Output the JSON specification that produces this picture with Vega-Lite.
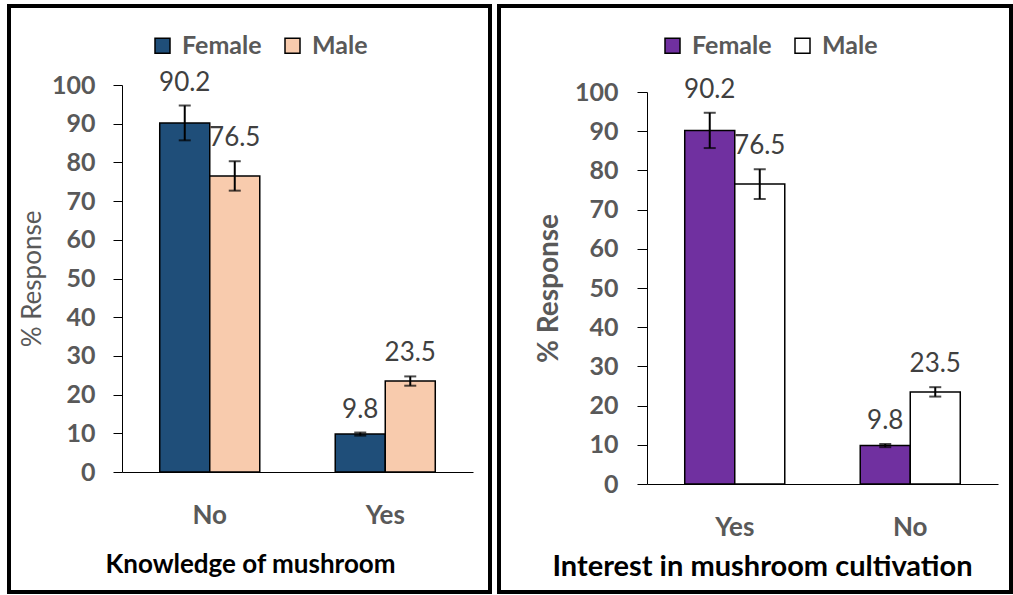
{
  "$schema": "https://vega.github.io/schema/vega-lite/v6.json",
  "padding": {"left": 7, "top": 4, "right": 0, "bottom": 0},
  "background": "white",
  "config": {
    "view": {"stroke": "black", "strokeWidth": 4},
    "font": "Lato",
    "axis": {"grid": false, "domainColor": "black", "domainWidth": 1, "tickColor": "black"},
    "legend": {
      "orient": "none", "direction": "horizontal", "title": null,
      "symbolType": "square", "symbolSize": 225, "symbolStrokeColor": "black", "symbolStrokeWidth": 1.5,
      "labelFont": "Lato", "labelFontSize": 25, "labelFontWeight": "bold", "labelColor": "#595959",
      "labelOffset": 7, "columnPadding": 18
    }
  },
  "datasets": {
    "knowledge": [
      {"answer": "No", "sex": "Female", "value": 90.2, "lo": 85.7, "hi": 94.7},
      {"answer": "No", "sex": "Male", "value": 76.5, "lo": 72.7, "hi": 80.3},
      {"answer": "Yes", "sex": "Female", "value": 9.8, "lo": 9.4, "hi": 10.2},
      {"answer": "Yes", "sex": "Male", "value": 23.5, "lo": 22.3, "hi": 24.7}
    ],
    "interest": [
      {"answer": "Yes", "sex": "Female", "value": 90.2, "lo": 85.7, "hi": 94.7},
      {"answer": "Yes", "sex": "Male", "value": 76.5, "lo": 72.7, "hi": 80.3},
      {"answer": "No", "sex": "Female", "value": 9.8, "lo": 9.4, "hi": 10.2},
      {"answer": "No", "sex": "Male", "value": 23.5, "lo": 22.3, "hi": 24.7}
    ]
  },
  "spacing": 5,
  "resolve": {
    "scale": {"color": "independent", "x": "independent", "y": "independent", "xOffset": "independent"},
    "legend": {"color": "independent"},
    "axis": {"x": "independent", "y": "independent"}
  },
  "hconcat": [
    {
      "width": 481,
      "height": 586,
      "data": {"name": "knowledge"},
      "encoding": {
        "x": {
          "field": "answer", "type": "nominal",
          "scale": {"domain": ["No", "Yes"], "range": [113, 464], "paddingInner": 0.43, "paddingOuter": 0.215},
          "axis": {
            "orient": "bottom", "offset": -120, "labelAngle": 0, "ticks": false, "tickSize": 0,
            "labelFontSize": 26, "labelFontWeight": "bold", "labelColor": "#595959", "labelPadding": 30,
            "title": "Knowledge of mushroom", "titleFontSize": 26, "titleFontWeight": "bold", "titleColor": "black",
            "titleX": 241, "titleY": 100, "titleBaseline": "alphabetic"
          }
        },
        "xOffset": {"field": "sex", "type": "nominal", "scale": {"domain": ["Female", "Male"]}}
      },
      "layer": [
        {
          "mark": {"type": "bar", "stroke": "black", "strokeWidth": 1.5},
          "encoding": {
            "y": {
              "field": "value", "type": "quantitative",
              "scale": {"domain": [0, 100], "range": [466, 79], "nice": false},
              "axis": {
                "orient": "left", "offset": -113, "values": [0, 10, 20, 30, 40, 50, 60, 70, 80, 90, 100],
                "tickSize": 9, "labelPadding": 18, "labelFontSize": 25, "labelFontWeight": "bold", "labelColor": "#595959",
                "title": "% Response", "titleFontSize": 26, "titleFontWeight": "normal", "titleColor": "#595959",
                "titleX": -82, "titleBaseline": "alphabetic"
              }
            },
            "color": {
              "field": "sex", "type": "nominal",
              "scale": {"domain": ["Female", "Male"], "range": ["#1F4E79", "#F8CBAD"]},
              "legend": {"legendX": 141, "legendY": 27}
            }
          }
        },
        {
          "mark": {"type": "rule", "color": "black", "strokeWidth": 2},
          "encoding": {"y": {"field": "lo", "type": "quantitative"}, "y2": {"field": "hi"}}
        },
        {
          "mark": {"type": "tick", "color": "black", "thickness": 2, "size": 12},
          "encoding": {"y": {"field": "lo", "type": "quantitative"}}
        },
        {
          "mark": {"type": "tick", "color": "black", "thickness": 2, "size": 12},
          "encoding": {"y": {"field": "hi", "type": "quantitative"}}
        },
        {
          "mark": {"type": "text", "baseline": "alphabetic", "dy": -15, "fontSize": 26, "color": "#404040", "font": "Lato"},
          "encoding": {"y": {"field": "hi", "type": "quantitative"}, "text": {"field": "value", "type": "quantitative", "format": ".1f"}}
        }
      ]
    },
    {
      "width": 512,
      "height": 586,
      "data": {"name": "interest"},
      "encoding": {
        "x": {
          "field": "answer", "type": "nominal",
          "scale": {"domain": ["Yes", "No"], "range": [148, 499], "paddingInner": 0.43, "paddingOuter": 0.215},
          "axis": {
            "orient": "bottom", "offset": -108, "labelAngle": 0, "ticks": false, "tickSize": 0,
            "labelFontSize": 26, "labelFontWeight": "bold", "labelColor": "#595959", "labelPadding": 30,
            "title": "Interest in mushroom cultivation", "titleFontSize": 29, "titleFontWeight": "bold", "titleColor": "black",
            "titleX": 263, "titleY": 91, "titleBaseline": "alphabetic"
          }
        },
        "xOffset": {"field": "sex", "type": "nominal", "scale": {"domain": ["Female", "Male"]}}
      },
      "layer": [
        {
          "mark": {"type": "bar", "stroke": "black", "strokeWidth": 1.5},
          "encoding": {
            "y": {
              "field": "value", "type": "quantitative",
              "scale": {"domain": [0, 100], "range": [478, 86], "nice": false},
              "axis": {
                "orient": "left", "offset": -148, "values": [0, 10, 20, 30, 40, 50, 60, 70, 80, 90, 100],
                "tickSize": 10, "labelPadding": 19, "labelFontSize": 25, "labelFontWeight": "bold", "labelColor": "#595959",
                "title": "% Response", "titleFontSize": 28, "titleFontWeight": "bold", "titleColor": "#595959",
                "titleX": -90, "titleBaseline": "alphabetic"
              }
            },
            "color": {
              "field": "sex", "type": "nominal",
              "scale": {"domain": ["Female", "Male"], "range": ["#7030A0", "#FFFFFF"]},
              "legend": {"legendX": 161, "legendY": 27}
            }
          }
        },
        {
          "mark": {"type": "rule", "color": "black", "strokeWidth": 2},
          "encoding": {"y": {"field": "lo", "type": "quantitative"}, "y2": {"field": "hi"}}
        },
        {
          "mark": {"type": "tick", "color": "black", "thickness": 2, "size": 12},
          "encoding": {"y": {"field": "lo", "type": "quantitative"}}
        },
        {
          "mark": {"type": "tick", "color": "black", "thickness": 2, "size": 12},
          "encoding": {"y": {"field": "hi", "type": "quantitative"}}
        },
        {
          "mark": {"type": "text", "baseline": "alphabetic", "dy": -15, "fontSize": 26, "color": "#404040", "font": "Lato"},
          "encoding": {"y": {"field": "hi", "type": "quantitative"}, "text": {"field": "value", "type": "quantitative", "format": ".1f"}}
        }
      ]
    }
  ]
}
